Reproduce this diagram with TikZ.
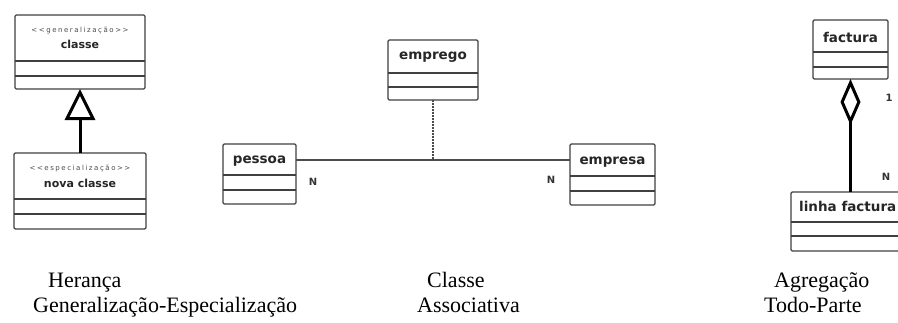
\documentclass[tikz,border=0pt]{standalone}
\usepackage{fontspec}
\setmainfont{Liberation Serif}
\newfontfamily\boxfont{DejaVu Sans}
\newfontfamily\stereofont{DejaVu Sans}[LetterSpace=22]
\usetikzlibrary{arrows.meta}
\tikzset{
  classbox/.style={draw=black!75, line width=1.3pt, rounded corners=1.2pt, rectangle, inner sep=0pt, outer sep=0pt},
  divider/.style={draw=black!75, line width=1.3pt},
  ctitle/.style={font=\boxfont\bfseries\fontsize{13.5}{15}\selectfont, text=black!85, inner sep=0pt},
  ltitle/.style={font=\boxfont\bfseries\fontsize{11}{13}\selectfont, text=black!85, inner sep=0pt},
  stereo/.style={font=\stereofont\fontsize{7}{8}\selectfont, text=black!70, inner sep=0pt},
  caption/.style={font=\fontsize{22}{25}\selectfont, inner sep=0pt, anchor=base west},
  mult/.style={font=\boxfont\bfseries\fontsize{10}{11}\selectfont, inner sep=0pt, text=black!80},
  assoc/.style={draw=black!70, line width=1.3pt},
  heavyline/.style={draw=black, line width=3pt},
}
\newcommand{\umlbox}[7]{%
  \node[classbox, anchor=north west, minimum width={(#4-#2)*1pt}, minimum height={(#5-#3)*1pt}] (#1) at (#2,#3) {};
  \draw[divider] (#2,#6) -- (#4,#6);
  \draw[divider] (#2,#7) -- (#4,#7);
}
\begin{document}
\begin{tikzpicture}[x=1pt,y=-1pt]
\useasboundingbox (0,0) rectangle (898,322);
\clip (0,0) rectangle (898,322);
\fill[white] (0,0) rectangle (898,322);
% Heranca
\umlbox{classe}{15}{15}{145}{89}{61}{76}
\node[stereo] (st1) at (80,31) {<<generalização>>};
\node[ltitle] (t1) at (80,44) {classe};
\umlbox{nova}{14}{153}{146}{229}{199}{214}
\node[stereo] (st2) at (80,169) {<<especialização>>};
\node[ltitle] (t2) at (80,183) {nova classe};
\draw[heavyline, -{Triangle[open, length=31pt, width=30pt]}] (nova.north) -- (nova.north |- classe.south);
% Classe associativa
\umlbox{emprego}{388}{40}{478}{100}{73}{87}
\node[ctitle] (t3) at (433,57) {emprego};
\umlbox{pessoa}{223}{144}{296}{204}{175}{190}
\node[ctitle] (t4) at (259.5,161) {pessoa};
\umlbox{empresa}{570}{144}{655}{205}{176}{191}
\node[ctitle] (t5) at (612.5,162) {empresa};
\draw[assoc] (pessoa.east |- 0,160) -- (empresa.west |- 0,160);
\draw[assoc, dash pattern=on 1.6pt off 1.4pt] (emprego.south) -- (emprego.south |- 0,160);
\node[mult] (n1) at (313,182) {N};
\node[mult] (n2) at (551,180) {N};
% Agregacao
\umlbox{factura}{813}{20}{888}{79}{52}{67}
\node[ctitle] (t6) at (850.5,37) {factura};
\umlbox{linha}{791}{192}{930}{251}{222}{236}
\node[ctitle, anchor=west] (t7) at (799,206) {linha factura};
\draw[heavyline, {Diamond[open, length=46pt, width=20pt]}-] (factura.south) -- (factura.south |- linha.north);
\node[mult] (one) at (889,98) {1};
\node[mult] (n3) at (886,177) {N};
% captions
\node[caption] (c1) at (48,287) {Herança};
\node[caption] (c2) at (33,312) {Generalização-Especialização};
\node[caption] (c3) at (427,287) {Classe};
\node[caption] (c4) at (417,312) {Associativa};
\node[caption] (c5) at (774,287) {Agregação};
\node[caption] (c6) at (764,312) {Todo-Parte};
\end{tikzpicture}
\end{document}
